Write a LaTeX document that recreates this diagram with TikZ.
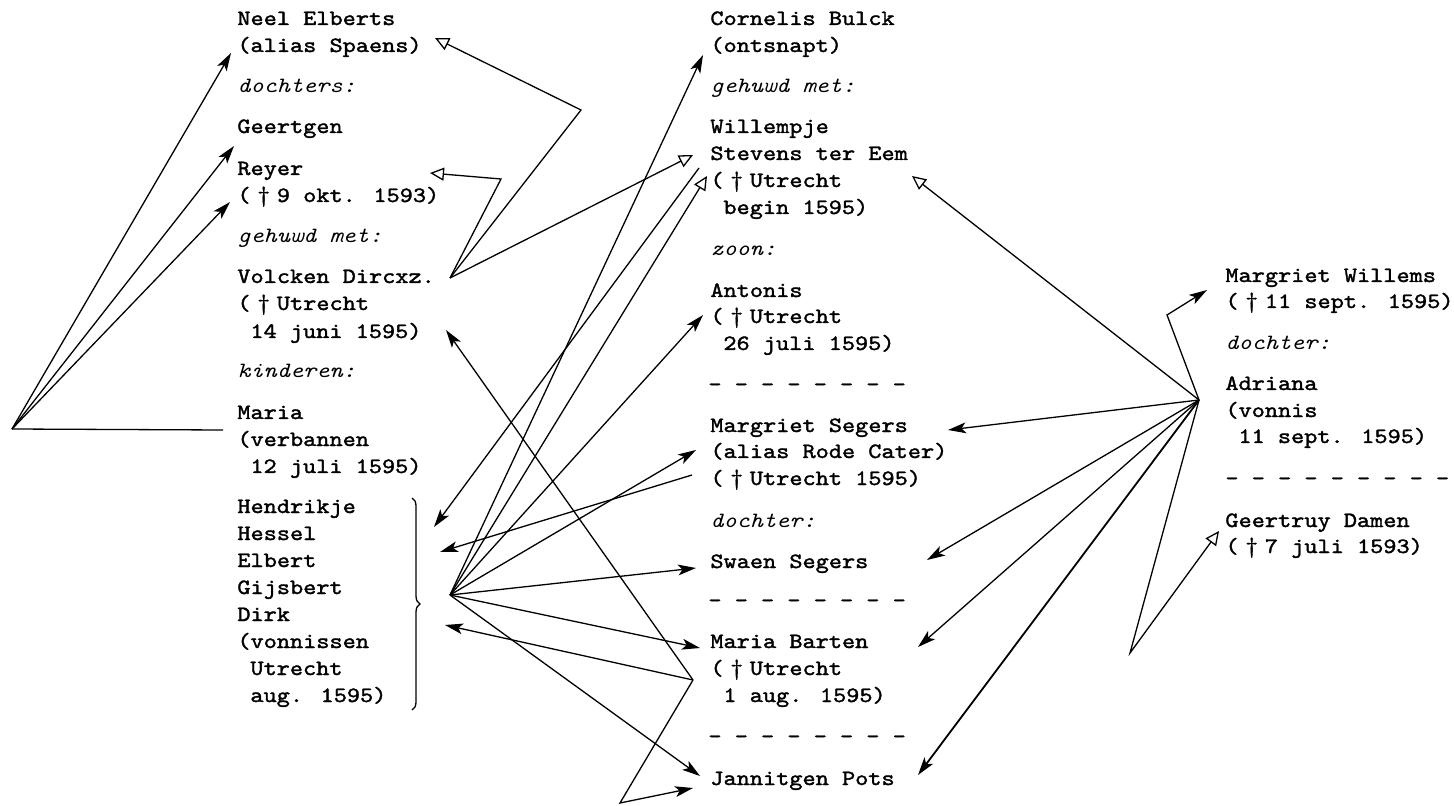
\documentclass[tikz,border=0pt]{standalone}
\usepackage{fontspec}
\newfontfamily\twr{Latin Modern Mono}[FakeStretch=1.15, FakeBold=1.6]
\newfontfamily\twi{Latin Modern Mono}[FakeStretch=1.15]
\usetikzlibrary{arrows.meta,decorations.pathreplacing}
\newcommand\dg{\makebox[2\fontcharwd\font`x]{†}}
\tikzset{
  txt/.style={anchor=base west, inner sep=0pt, font=\twr\fontsize{10.9}{13.5}\selectfont},
  lbl/.style={anchor=base west, inner sep=0pt, font=\twi\itshape\fontsize{10.9}{13.5}\selectfont},
  ln/.style={line width=0.65pt},
  fa/.style={ln, -{Stealth[length=9pt,width=5.4pt,inset=2.2pt]}},
  oa/.style={ln, -{Triangle[open,length=7pt,width=6.5pt]}},
}
\begin{document}
\begin{tikzpicture}[x=0.5pt,y=-0.5pt]
\useasboundingbox (0,0) rectangle (1454,806);
% ---------- left column
\node[txt] (ne1) at (237,25) {Neel Elberts};
\node[txt] (ne2) at (237,52) {(alias Spaens)};
\node[lbl] (la1) at (237,93) {dochters:};
\node[txt] (gee) at (237,133) {Geertgen};
\node[txt] (re1) at (237,175) {Reyer};
\node[txt] (re2) at (237,202) {(\dg 9 okt. 1593)};
\node[lbl] (la2) at (237,243) {gehuwd met:};
\node[txt] (vo1) at (237,283) {Volcken Dircxz.};
\node[txt] (vo2) at (237,310) {(\dg Utrecht};
\node[txt] (vo3) at (250,338) {14 juni 1595)};
\node[lbl] (la3) at (237,378) {kinderen:};
\node[txt] (ma1) at (237,419) {Maria};
\node[txt] (ma2) at (237,446) {(verbannen};
\node[txt] (ma3) at (250,473) {12 juli 1595)};
\node[txt] (k1) at (237,513) {Hendrikje};
\node[txt] (k2) at (237,540) {Hessel};
\node[txt] (k3) at (237,567) {Elbert};
\node[txt] (k4) at (237,594) {Gijsbert};
\node[txt] (k5) at (237,621) {Dirk};
\node[txt] (k6) at (237,648) {(vonnissen};
\node[txt] (k7) at (250,675) {Utrecht};
\node[txt] (k8) at (250,702) {aug. 1595)};
\draw[ln, decorate, decoration={brace, amplitude=4pt}] (412,498) -- (412,710);
% ---------- middle column
\node[txt] (co1) at (710,25) {Cornelis Bulck};
\node[txt] (co2) at (710,52) {(ontsnapt)};
\node[lbl] (lb1) at (710,93) {gehuwd met:};
\node[txt] (wi1) at (710,133) {Willempje};
\node[txt] (wi2) at (710,160) {Stevens ter Eem};
\node[txt] (wi3) at (710,187) {(\dg Utrecht};
\node[txt] (wi4) at (723,214) {begin 1595)};
\node[lbl] (lb2) at (710,256) {zoon:};
\node[txt] (an1) at (710,297) {Antonis};
\node[txt] (an2) at (710,323) {(\dg Utrecht};
\node[txt] (an3) at (723,350) {26 juli 1595)};
\node[txt] (d1) at (708,391) {- - - - - - - -};
\node[txt] (ms1) at (710,432) {Margriet Segers};
\node[txt] (ms2) at (710,458) {(alias Rode Cater)};
\node[txt] (ms3) at (710,485) {(\dg Utrecht 1595)};
\node[lbl] (lb3) at (710,527) {dochter:};
\node[txt] (sw) at (710,568) {Swaen Segers};
\node[txt] (d2) at (708,607) {- - - - - - - -};
\node[txt] (mb1) at (710,648) {Maria Barten};
\node[txt] (mb2) at (710,675) {(\dg Utrecht};
\node[txt] (mb3) at (723,702) {1 aug. 1595)};
\node[txt] (d3) at (708,743) {- - - - - - - -};
\node[txt] (jp) at (710,785) {Jannitgen Pots};
% ---------- right column
\node[txt] (mw1) at (1225,282) {Margriet Willems};
\node[txt] (mw2) at (1225,308) {(\dg 11 sept. 1595)};
\node[lbl] (lc1) at (1225,350) {dochter:};
\node[txt] (ad1) at (1225,390) {Adriana};
\node[txt] (ad2) at (1225,417) {(vonnis};
\node[txt] (ad3) at (1238,443) {11 sept. 1595)};
\node[txt] (d4) at (1225,485) {- - - - - - - - -};
\node[txt] (gd1) at (1225,527) {Geertruy Damen};
\node[txt] (gd2) at (1225,553) {(\dg 7 juli 1593)};
% ---------- points
\coordinate (L) at (12,429);
\coordinate (Lm) at (223,430);
\coordinate (tNeel) at (231,53);
\coordinate (tReyer) at (234,146);
\coordinate (tReyerD) at (230,202);
\coordinate (V) at (450,278);
\coordinate (vP1) at (581,110);
\coordinate (tNeelO) at (435,38);
\coordinate (vP2) at (501,179);
\coordinate (tReyerO) at (430,173);
\coordinate (tWilO1) at (693,155);
\coordinate (H) at (450,595);
\coordinate (tCor) at (703,55);
\coordinate (tWilO2) at (707,176);
\coordinate (tAnt) at (703,315);
\coordinate (tMS) at (696,450);
\coordinate (tSw) at (696,568);
\coordinate (tMB) at (700,648);
\coordinate (tJP) at (700,776);
\coordinate (sWil) at (699,168);
\coordinate (tHen) at (434,527);
\coordinate (sMS) at (692,475);
\coordinate (tHes) at (440,552);
\coordinate (Q) at (693,680);
\coordinate (tVol) at (446,330);
\coordinate (tDirk) at (445,625);
\coordinate (vB) at (620,803);
\coordinate (tJP2) at (693,788);
\coordinate (R) at (1199,400);
\coordinate (vMW) at (1167,315);
\coordinate (tMW) at (1207,290);
\coordinate (tWilO3) at (912,176);
\coordinate (tMS2) at (948,430);
\coordinate (tSw2) at (927,560);
\coordinate (tMB2) at (918,647);
\coordinate (tJP3) at (918,775);
\coordinate (vGD) at (1130,653);
\coordinate (tGD) at (1219,531);
% ---------- connectors
\draw[ln] (Lm) -- (L);
\draw[fa] (L) -- (tNeel);
\draw[fa] (L) -- (tReyer);
\draw[fa] (L) -- (tReyerD);
\draw[oa] (V) -- (vP1) -- (tNeelO);
\draw[oa] (V) -- (vP2) -- (tReyerO);
\draw[oa] (V) -- (tWilO1);
\draw[fa] (H) -- (tCor);
\draw[oa] (H) -- (tWilO2);
\draw[fa] (H) -- (tAnt);
\draw[fa] (H) -- (tMS);
\draw[fa] (H) -- (tSw);
\draw[fa] (H) -- (tMB);
\draw[fa] (H) -- (tJP);
\draw[fa] (sWil) -- (tHen);
\draw[fa] (sMS) -- (tHes);
\draw[fa] (Q) -- (tVol);
\draw[fa] (Q) -- (tDirk);
\draw[fa] (Q) -- (vB) -- (tJP2);
\draw[fa] (R) -- (vMW) -- (tMW);
\draw[oa] (R) -- (tWilO3);
\draw[fa] (R) -- (tMS2);
\draw[fa] (R) -- (tSw2);
\draw[fa] (R) -- (tMB2);
\draw[fa, line width=0.9pt] (R) -- (tJP3);
\draw[oa] (R) -- (vGD) -- (tGD);
\end{tikzpicture}
\end{document}
